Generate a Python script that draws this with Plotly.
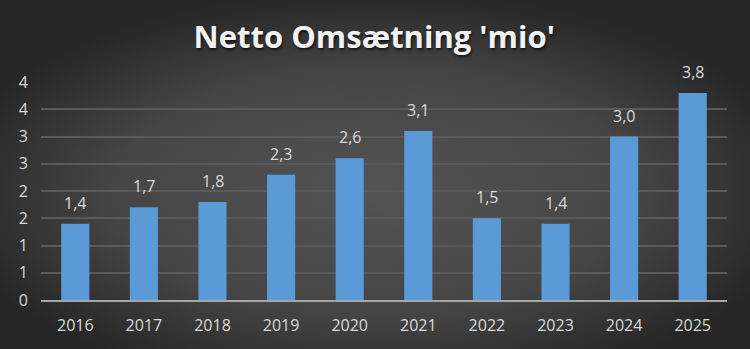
import base64
import plotly.graph_objects as go

years = ["2016", "2017", "2018", "2019", "2020", "2021", "2022", "2023", "2024", "2025"]
values = [1.4, 1.7, 1.8, 2.3, 2.6, 3.1, 1.5, 1.4, 3.0, 3.8]
y_tick_vals = [0, 0.5, 1, 1.5, 2, 2.5, 3, 3.5, 4]
y_tick_text = ["0", "1", "1", "2", "2", "3", "3", "4", "4"]
title_text = "Netto Omsætning 'mio'"

W, H = 750, 349
ML, MR, MT, MB = 41, 23, 82, 49
PW, PH = W - ML - MR, H - MT - MB

svg = f'''<svg xmlns="http://www.w3.org/2000/svg" width="{W}" height="{H}" viewBox="0 0 {W} {H}" preserveAspectRatio="none">
<defs><radialGradient id="g" cx="50%" cy="55%" r="58%">
<stop offset="0" stop-color="#535353"/><stop offset="0.6" stop-color="#454545"/><stop offset="1" stop-color="#262626"/>
</radialGradient></defs>
<rect width="{W}" height="{H}" fill="url(#g)"/></svg>'''
bg_uri = "data:image/svg+xml;base64," + base64.b64encode(svg.encode()).decode()

font_family = "Open Sans, Noto Sans, sans-serif"
label_color = "#d9d9d9"

fig = go.Figure()
fig.add_trace(go.Bar(
    x=years, y=values,
    marker=dict(color="#5a9ad6", line=dict(width=0)),
    width=0.41,
    hoverinfo="skip",
))

for i, v in enumerate(values):
    fig.add_annotation(
        x=i, y=v, xref="x", yref="y",
        text=f"{v:.1f}".replace(".", ","),
        showarrow=False, yanchor="bottom", yshift=8,
        font=dict(family=font_family, size=16, color=label_color),
    )

fig.add_layout_image(dict(
    source=bg_uri, xref="paper", yref="paper",
    x=-ML / PW, y=1 + MT / PH, sizex=W / PW, sizey=H / PH,
    xanchor="left", yanchor="top", sizing="stretch", layer="below",
))

fig.update_layout(
    width=W, height=H,
    margin=dict(l=ML, r=MR, t=MT, b=MB, pad=0),
    paper_bgcolor="#2a2a2a",
    plot_bgcolor="rgba(0,0,0,0)",
    showlegend=False,
    title=dict(
        text=title_text, x=0.499, xref="container", y=1 - 37 / H, yref="container",
        xanchor="center", yanchor="middle",
        font=dict(family=font_family, size=31, color="#f2f2f2", weight="bold",
                  shadow="1px 2px 3px rgba(0,0,0,0.7)"),
    ),
    xaxis=dict(
        type="category", range=[-0.5, len(years) - 0.5],
        showgrid=False, showline=True, linecolor="#a6a6a6", linewidth=2,
        ticks="", tickfont=dict(family=font_family, size=16, color=label_color),
        ticklabelstandoff=10, fixedrange=True,
    ),
    yaxis=dict(
        range=[0, 4], tickvals=y_tick_vals, ticktext=y_tick_text,
        showgrid=True, gridcolor="#5a5a5a", gridwidth=1.5, zeroline=False, showline=False,
        ticks="", tickfont=dict(family=font_family, size=16, color=label_color),
        ticklabelstandoff=12, fixedrange=True,
    ),
)

fig.write_html("out.html", config={"displayModeBar": False})
